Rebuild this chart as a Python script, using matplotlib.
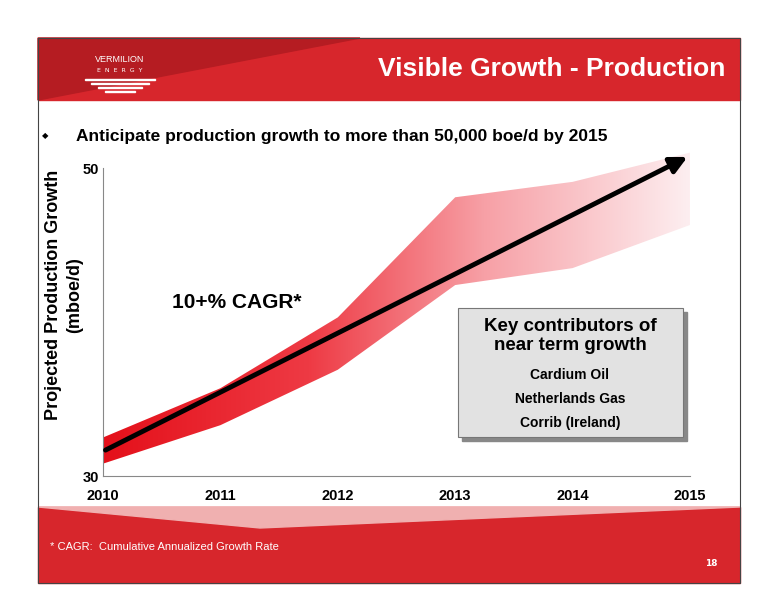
import matplotlib
matplotlib.use("Agg")
import matplotlib.pyplot as plt
import numpy as np
from matplotlib.patches import Rectangle, Polygon
from matplotlib.colors import LinearSegmentedColormap

years = [2010, 2011, 2012, 2013, 2014, 2015]
upper = [32.5, 35.7, 40.3, 48.1, 49.1, 51.0]
lower = [30.8, 33.3, 36.9, 42.4, 43.5, 46.3]
arrow_start = (2010, 31.6)
arrow_end = (2015, 50.8)
ytick_vals = [30, 50]
contributors = ["Cardium Oil", "Netherlands Gas", "Corrib (Ireland)"]

W, H = 776, 600
fig = plt.figure(figsize=(7.76, 6), dpi=100)
fig.patch.set_facecolor("white")

def fx(px): return px / W
def fy(py): return 1 - py / H

red = "#d7262c"
fig.patches.append(Rectangle((fx(38), fy(100)), fx(702), 62/H, transform=fig.transFigure, color=red, zorder=0))
fig.patches.append(Polygon([(fx(38), fy(38)), (fx(360), fy(38)), (fx(38), fy(100))], closed=True,
                           transform=fig.transFigure, color="#b51c22", zorder=0))
fig.patches.append(Rectangle((fx(38), fy(583)), fx(702), 76/H, transform=fig.transFigure, color=red, zorder=0))
fig.patches.append(Polygon([(fx(38), fy(507)), (fx(740), fy(507)), (fx(260), fy(528))], closed=True,
                           transform=fig.transFigure, color="#f0b0b0", zorder=0))
fig.patches.append(Rectangle((fx(38), fy(583)), fx(702), 545/H, transform=fig.transFigure, fill=False,
                             ec="#444444", lw=0.8, zorder=1))

fig.text(fx(725), fy(69), "Visible Growth - Production", color="white", fontsize=19, fontweight="bold",
         ha="right", va="center", family="Liberation Sans")
fig.text(fx(120), fy(60), "VERMILION", color="white", fontsize=6.5, ha="center", va="center", family="Liberation Sans")
fig.text(fx(120), fy(70), "E  N  E  R  G  Y", color="white", fontsize=4.5, ha="center", va="center")
for i, w in enumerate([70, 58, 44, 30]):
    fig.patches.append(Rectangle((fx(120 - w/2), fy(80 + i*4)), w/W, 1.5/H, transform=fig.transFigure, color="white"))

fig.text(fx(42), fy(136), "\u25c6", fontsize=6, va="center", family="DejaVu Sans")
fig.text(fx(76), fy(136), "Anticipate production growth to more than 50,000 boe/d by 2015",
         fontsize=12.5, fontweight="bold", va="center", family="Liberation Sans")
fig.text(fx(50), fy(547), "* CAGR:  Cumulative Annualized Growth Rate", color="white", fontsize=8,
         va="center", family="Liberation Sans")
fig.text(fx(718), fy(563), "18", color="white", fontsize=6.5, ha="right", va="center", fontweight="bold")

ax = fig.add_axes([fx(103), fy(476), (690-103)/W, (476-168)/H])
ax.patch.set_alpha(0)
for s in ["top", "right"]:
    ax.spines[s].set_visible(False)
ax.spines["left"].set_color("#888888")
ax.spines["bottom"].set_color("#888888")

grad = np.linspace(0, 1, 256)[None, :]
cmap = LinearSegmentedColormap.from_list("g", [(0, "#e4101a"), (0.35, "#ee3a44"), (0.65, "#f7a0a6"), (1, "#fdeef0")])
img = ax.imshow(grad, extent=[2010, 2015, 30, 52], aspect="auto", cmap=cmap, zorder=1)
ax.set_ylim(30, 50)
ax.set_xlim(2010, 2015)
verts = np.concatenate([np.column_stack([years, lower]), np.column_stack([years[::-1], upper[::-1]])])
clip = Polygon(verts, closed=True, transform=ax.transData, fc="none", ec="none")
ax.add_patch(clip)
img.set_clip_path(clip)
img.set_clip_box(fig.bbox)

ax.set_xticks(years)
ax.set_xticklabels([str(y) for y in years], fontsize=10.5, fontweight="bold", family="Liberation Sans")
ax.set_yticks(ytick_vals)
ax.set_yticklabels([str(v) for v in ytick_vals], fontsize=10.5, fontweight="bold", family="Liberation Sans")
ax.tick_params(axis="x", length=0, pad=9)
ax.tick_params(axis="y", length=0, pad=3)

ax.annotate("", xy=arrow_end, xytext=arrow_start,
            arrowprops=dict(arrowstyle="-|>,head_length=1.0,head_width=0.5", lw=3.5, color="black"),
            annotation_clip=False, zorder=5)

fig.text(fx(172), fy(303), "10+% CAGR*", fontsize=15, fontweight="bold", family="Liberation Sans",
         va="center", zorder=6)

fig.text(fx(64), fy(295), "Projected Production Growth\n(mboe/d)", fontsize=13, fontweight="bold",
         family="Liberation Sans", rotation=90, ha="center", va="center", linespacing=1.3)

fig.patches.append(Rectangle((fx(462), fy(441)), 225/W, 129/H, transform=fig.transFigure,
                             color="#888888", zorder=6))
fig.patches.append(Rectangle((fx(458), fy(437)), 225/W, 129/H, transform=fig.transFigure,
                             fc="#e2e2e2", ec="#777777", lw=0.8, zorder=7))
fig.text(fx(570), fy(336), "Key contributors of\nnear term growth", fontsize=13.5, fontweight="bold",
         ha="center", va="center", family="Liberation Sans", zorder=8, linespacing=1.2)
for i, c in enumerate(contributors):
    fig.text(fx(570), fy(375 + i*24), c, fontsize=10, fontweight="bold", ha="center", va="center",
             family="Liberation Sans", zorder=8)

fig.savefig("out.png", dpi=100)
